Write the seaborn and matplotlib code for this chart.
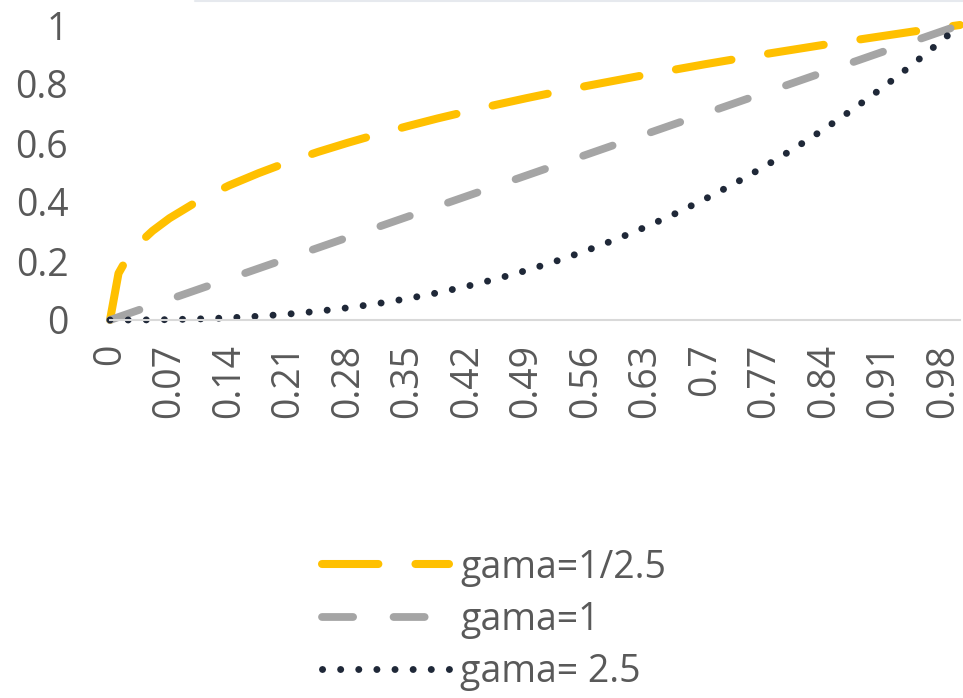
import matplotlib
matplotlib.use('Agg')
import matplotlib.pyplot as plt
from matplotlib.lines import Line2D
import seaborn as sns
import pandas as pd

# values
x_vals = [0, 0.01, 0.02, 0.035, 0.05, 0.07, 0.105, 0.14, 0.175, 0.21, 0.245, 0.28, 0.315,
          0.35, 0.385, 0.42, 0.455, 0.49, 0.525, 0.56, 0.595, 0.63, 0.665, 0.7, 0.735,
          0.77, 0.805, 0.84, 0.875, 0.91, 0.945, 0.98, 1.0]
gama_04 = [0, 0.158, 0.209, 0.262, 0.302, 0.345, 0.406, 0.456, 0.498, 0.536, 0.570, 0.601,
           0.630, 0.657, 0.683, 0.707, 0.730, 0.752, 0.773, 0.793, 0.812, 0.831, 0.849,
           0.867, 0.884, 0.901, 0.917, 0.933, 0.948, 0.963, 0.978, 0.992, 1.0]
gama_1 = [0, 0.01, 0.02, 0.035, 0.05, 0.07, 0.105, 0.14, 0.175, 0.21, 0.245, 0.28, 0.315,
          0.35, 0.385, 0.42, 0.455, 0.49, 0.525, 0.56, 0.595, 0.63, 0.665, 0.7, 0.735,
          0.77, 0.805, 0.84, 0.875, 0.91, 0.945, 0.98, 1.0]
gama_25 = [0, 0.0, 0.0001, 0.0002, 0.0006, 0.0013, 0.0036, 0.0073, 0.0128, 0.0202, 0.0297,
           0.0415, 0.0557, 0.0725, 0.0920, 0.1143, 0.1396, 0.1681, 0.1997, 0.2347, 0.2731,
           0.3150, 0.3606, 0.4100, 0.4631, 0.5203, 0.5814, 0.6467, 0.7162, 0.7899, 0.8681,
           0.9507, 1.0]
x_ticks = [0, 0.07, 0.14, 0.21, 0.28, 0.35, 0.42, 0.49, 0.56, 0.63, 0.7, 0.77, 0.84, 0.91, 0.98]
x_tick_labels = ['0', '0.07', '0.14', '0.21', '0.28', '0.35', '0.42', '0.49', '0.56',
                 '0.63', '0.7', '0.77', '0.84', '0.91', '0.98']
y_ticks = [0, 0.2, 0.4, 0.6, 0.8, 1]
y_tick_labels = ['0', '0.2', '0.4', '0.6', '0.8', '1']
series_names = ['gama=1/2.5', 'gama=1', 'gama= 2.5']

df = pd.DataFrame({'x': x_vals, series_names[0]: gama_04,
                   series_names[1]: gama_1, series_names[2]: gama_25})

sns.set_theme(style='white')
plt.rcParams['font.family'] = ['Open Sans', 'DejaVu Sans']

fig = plt.figure(figsize=(9.63, 6.98), dpi=100)
ax = fig.add_axes([110 / 963, 378 / 698, 850 / 963, 295 / 698])

styles = {
    series_names[0]: dict(color='#FFC000', lw=5.8, linestyle=(0, (7, 4.6))),
    series_names[1]: dict(color='#A5A5A5', lw=5.6, linestyle=(0, (4.0, 5.2))),
    series_names[2]: dict(color='#1F2838', lw=5.0, linestyle=(0, (0.01, 2.6))),
}
for name in series_names:
    sns.lineplot(data=df, x='x', y=name, ax=ax, label=name, clip_on=False,
                 dash_capstyle='round', solid_capstyle='round', **styles[name])

ax.set_xlim(0, 1.0)
ax.set_ylim(0, 1)
ax.set_xticks(x_ticks)
ax.set_xticklabels(x_tick_labels, rotation=90)
ax.set_yticks(y_ticks)
ax.set_yticklabels(y_tick_labels)
ax.tick_params(axis='x', length=0, pad=17, labelsize=27, labelcolor='#595959')
ax.tick_params(axis='y', length=0, pad=30, labelsize=27, labelcolor='#595959')
ax.set_xlabel('')
ax.set_ylabel('')
for side in ['top', 'right', 'left']:
    ax.spines[side].set_visible(False)
ax.spines['bottom'].set_color('#D9D9D9')
ax.spines['bottom'].set_linewidth(1.5)
ax.grid(False)

# faint border at the top edge
fig.add_artist(Line2D([195 / 963, 1], [0.998, 0.998], color='#E6E9EE', lw=1.5,
                      transform=fig.transFigure))

ax.get_legend().remove()
handles, labels = ax.get_legend_handles_labels()
fig.legend(handles, labels, loc='center', bbox_to_anchor=(0.513, 0.112), frameon=False,
           fontsize=27, labelcolor='#595959', handlelength=3.4, handletextpad=0.3,
           labelspacing=0.38)

fig.savefig('out.png', dpi=100)
